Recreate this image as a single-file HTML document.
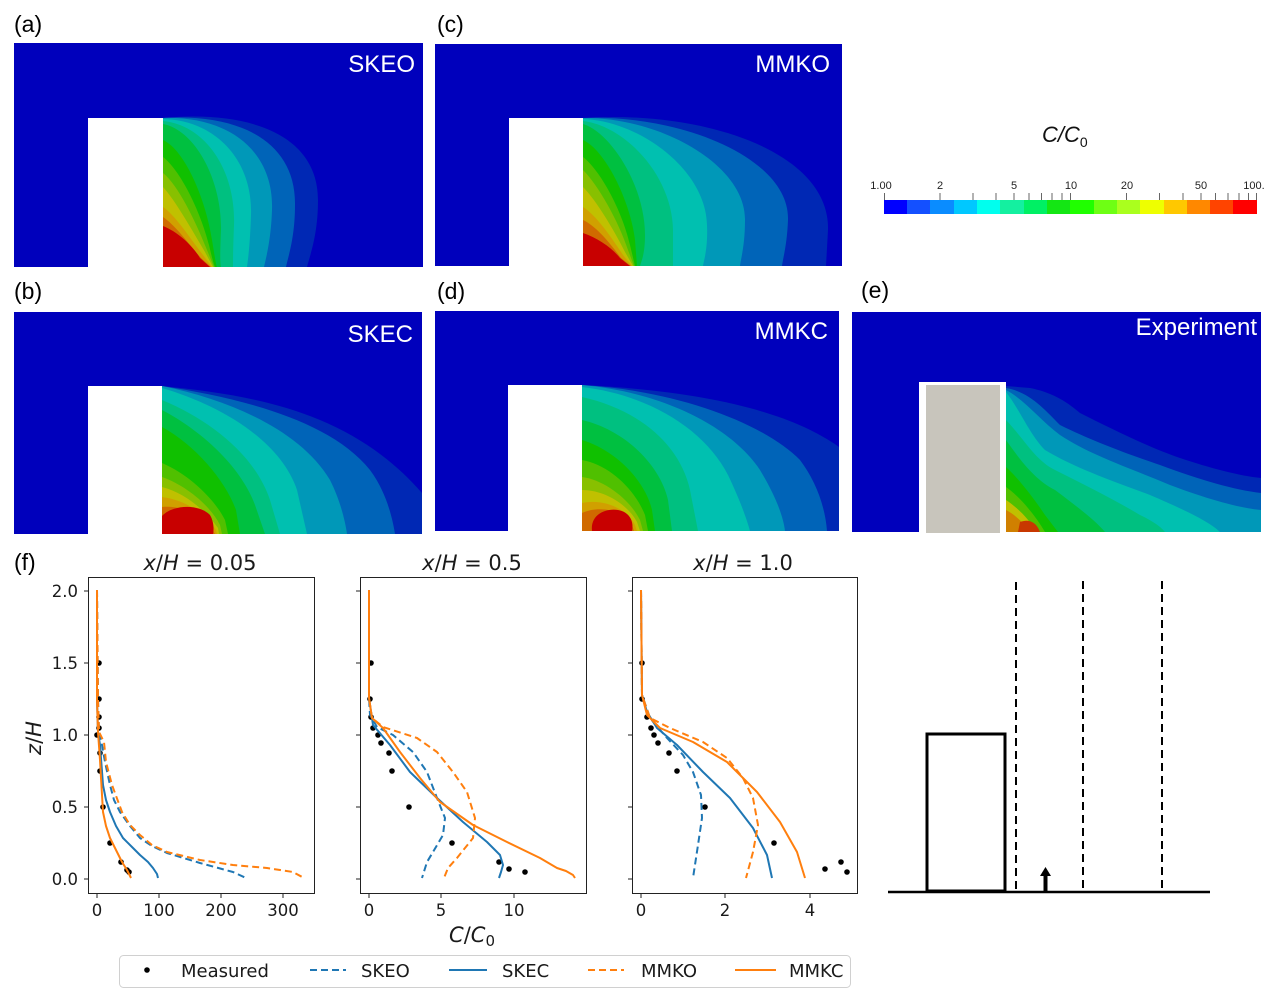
<!DOCTYPE html>
<html><head><meta charset="utf-8"><style>
html,body{margin:0;padding:0;background:#fff;}
svg{display:block;}
.lbl{font-family:"Liberation Sans",Arial,sans-serif;font-size:23px;fill:#000;}
.wt{font-family:"Liberation Sans",Arial,sans-serif;font-size:24px;fill:#fff;}
.tk{font-family:"DejaVu Sans","Liberation Sans",sans-serif;font-size:16.5px;fill:#1a1a1a;}
.tt{font-family:"DejaVu Sans","Liberation Sans",sans-serif;font-size:21px;fill:#1a1a1a;}
.lg{font-family:"DejaVu Sans","Liberation Sans",sans-serif;font-size:18px;fill:#1a1a1a;}
.cb{font-family:"Liberation Sans",Arial,sans-serif;font-size:11px;fill:#222;}
</style></head><body>
<svg width="1280" height="995" viewBox="0 0 1280 995" xmlns="http://www.w3.org/2000/svg">
<rect width="1280" height="995" fill="#fff"/>

<!-- Panel labels -->
<text class="lbl" x="14" y="32">(a)</text>
<text class="lbl" x="437" y="32">(c)</text>
<text class="lbl" x="14" y="299">(b)</text>
<text class="lbl" x="437" y="299">(d)</text>
<text class="lbl" x="861" y="298">(e)</text>
<text class="lbl" x="14" y="570">(f)</text>

<!-- Panel (a) SKEO -->
<rect x="14" y="43" width="409" height="224" fill="#0000bc"/>
<path fill="#0028b4" d="M163,118 C250,110 318,135 318,200 C318,235 310,255 307,267 L163,267Z"/>
<path fill="#0064b8" d="M163,118 C240,113 296,142 295,205 C295,238 288,257 286,267 L163,267Z"/>
<path fill="#0098b8" d="M163,118 C228,116 274,150 272,210 C271,240 266,258 264,267 L163,267Z"/>
<path fill="#00c0b0" d="M163,119 C215,120 253,160 251,215 C250,245 248,260 247,267 L163,267Z"/>
<path fill="#00c080" d="M163,121 C205,125 236,170 234,225 C233,250 233,262 233,267 L163,267Z"/>
<path fill="#00c040" d="M163,124 C195,130 222,180 221,230 C220,255 220,263 221,267 L163,267Z"/>
<path fill="#10c000" d="M163,140 C185,150 206,200 212,240 C215,258 216,265 217,267 L163,267Z"/>
<path fill="#50c000" d="M163,157 C180,170 200,210 209,245 C212,258 214,265 215,267 L163,267Z"/>
<path fill="#88c000" d="M163,173 C178,185 195,220 207,250 L214,267 L163,267Z"/>
<path fill="#c0c000" d="M163,187 C175,200 192,230 205,252 L213,267 L163,267Z"/>
<path fill="#d0a000" d="M163,207 C175,215 190,238 203,255 L212,267 L163,267Z"/>
<path fill="#d06a00" d="M163,217 C175,225 188,243 201,258 L211,267 L163,267Z"/>
<path fill="#c80000" d="M163,226 C178,232 192,245 200,258 L210,267 L163,267Z"/>
<rect x="88" y="118" width="75" height="150" fill="#fff"/>
<text class="wt" x="415" y="72" text-anchor="end">SKEO</text>

<!-- Panel (c) MMKO -->
<rect x="435" y="44" width="407" height="222" fill="#0000bc"/>
<path fill="#0028b4" d="M583,118 C700,110 830,150 828,230 L826,266 L583,266Z"/>
<path fill="#0064b8" d="M583,118 C680,114 790,158 788,220 C787,245 783,258 782,266 L583,266Z"/>
<path fill="#0098b8" d="M583,118 C660,117 746,165 745,220 C745,245 741,258 740,266 L583,266Z"/>
<path fill="#00c0b0" d="M583,119 C640,121 706,170 707,225 C708,248 704,260 703,266 L583,266Z"/>
<path fill="#00c080" d="M583,121 C625,126 672,175 673,230 L673,266 L583,266Z"/>
<path fill="#00c040" d="M583,124 C610,132 645,185 645,235 C645,255 641,262 640,266 L583,266Z"/>
<path fill="#10c000" d="M583,140 C605,150 630,200 635,240 L637,266 L583,266Z"/>
<path fill="#50c000" d="M583,157 C600,170 622,210 630,245 L635,266 L583,266Z"/>
<path fill="#88c000" d="M583,170 C598,185 618,220 628,250 L634,266 L583,266Z"/>
<path fill="#c0c000" d="M583,187 C596,200 614,230 625,252 L633,266 L583,266Z"/>
<path fill="#d0a000" d="M583,207 C596,215 612,238 623,255 L632,266 L583,266Z"/>
<path fill="#d06a00" d="M583,220 C596,226 610,243 621,258 L631,266 L583,266Z"/>
<path fill="#c80000" d="M583,233 C598,238 612,248 620,258 L630,266 L583,266Z"/>
<rect x="509" y="118" width="74" height="149" fill="#fff"/>
<text class="wt" x="830" y="72" text-anchor="end">MMKO</text>

<!-- Panel (b) SKEC -->
<rect x="14" y="312" width="408" height="222" fill="#0000bc"/>
<path fill="#0028b4" d="M162,386 C250,395 350,410 422,493 L422,534 L162,534Z"/>
<path fill="#0064b8" d="M162,386 C240,398 330,420 370,470 C385,490 392,515 395,534 L162,534Z"/>
<path fill="#0098b8" d="M162,386 C230,400 300,430 330,480 C340,500 345,520 347,534 L162,534Z"/>
<path fill="#00c0b0" d="M162,388 C220,405 280,440 297,490 L307,534 L162,534Z"/>
<path fill="#00c080" d="M162,400 C210,420 255,455 270,500 L280,534 L162,534Z"/>
<path fill="#00c040" d="M162,410 C200,430 240,465 255,505 L265,534 L162,534Z"/>
<path fill="#10c000" d="M162,427 C195,445 225,480 236,510 L240,534 L162,534Z"/>
<path fill="#50c000" d="M162,463 C190,475 215,500 225,520 L228,534 L162,534Z"/>
<path fill="#88c000" d="M162,477 C185,485 210,505 220,525 L222,534 L162,534Z"/>
<path fill="#c0c000" d="M162,487 C185,493 205,510 218,528 L219,534 L162,534Z"/>
<path fill="#d0a000" d="M162,497 C185,500 205,513 216,530 L217,534 L162,534Z"/>
<path fill="#d06a00" d="M162,507 C182,505 205,515 215,534 L162,534Z"/>
<path fill="#c80000" d="M162,516 C172,505 198,503 210,515 C214,522 214,530 213,534 L162,534Z"/>
<rect x="88" y="386" width="74" height="149" fill="#fff"/>
<text class="wt" x="413" y="342" text-anchor="end">SKEC</text>

<!-- Panel (d) MMKC -->
<rect x="435" y="311" width="404" height="220" fill="#0000bc"/>
<path fill="#0028b4" d="M582,385 C680,390 780,405 839,447 L839,531 L582,531Z"/>
<path fill="#0064b8" d="M582,385 C670,390 760,420 800,460 C815,480 825,505 827,531 L582,531Z"/>
<path fill="#0098b8" d="M582,385 C660,392 730,425 760,470 C775,495 783,515 785,531 L582,531Z"/>
<path fill="#00c0b0" d="M582,387 C650,395 705,430 728,475 C740,500 747,520 750,531 L582,531Z"/>
<path fill="#00c080" d="M582,397 C640,410 680,445 690,490 L698,531 L582,531Z"/>
<path fill="#00c040" d="M582,420 C625,430 660,465 668,500 L672,531 L582,531Z"/>
<path fill="#10c000" d="M582,440 C615,450 645,480 652,510 L655,531 L582,531Z"/>
<path fill="#50c000" d="M582,460 C610,465 635,490 645,515 L648,531 L582,531Z"/>
<path fill="#88c000" d="M582,477 C605,480 630,500 640,520 L643,531 L582,531Z"/>
<path fill="#c0c000" d="M582,490 C605,490 628,505 637,522 L640,531 L582,531Z"/>
<path fill="#d0a000" d="M582,503 C605,498 628,510 635,525 L637,531 L582,531Z"/>
<path fill="#d06a00" d="M582,513 C600,505 625,510 633,528 L634,531 L582,531Z"/>
<path fill="#c80000" d="M592,531 C590,515 605,508 618,510 C630,512 634,522 632,531Z"/>
<rect x="508" y="385" width="74" height="147" fill="#fff"/>
<text class="wt" x="828" y="339" text-anchor="end">MMKC</text>

<!-- Panel (e) Experiment -->
<rect x="852" y="312" width="409" height="220" fill="#0000bc"/>
<path fill="#0028b4" d="M1006,386 L1030,388 C1050,392 1065,400 1080,413 C1110,428 1150,448 1180,458 C1210,468 1240,476 1261,478 L1261,532 L1006,532Z"/>
<path fill="#0064b8" d="M1006,388 C1030,392 1045,410 1060,425 C1090,440 1130,455 1160,465 C1200,480 1235,490 1261,493 L1261,532 L1006,532Z"/>
<path fill="#0098b8" d="M1006,390 C1025,400 1040,420 1060,435 C1090,455 1130,468 1170,485 C1210,500 1240,508 1261,510 L1261,532 L1006,532Z"/>
<path fill="#00c0b0" d="M1006,392 C1020,410 1030,435 1045,450 C1075,468 1110,480 1150,495 C1185,510 1210,522 1220,532 L1006,532Z"/>
<path fill="#00c080" d="M1006,420 C1025,440 1035,460 1055,470 C1085,485 1115,500 1140,515 C1155,522 1162,528 1165,532 L1006,532Z"/>
<path fill="#00c040" d="M1006,440 C1020,460 1035,480 1055,490 C1075,505 1095,520 1105,532 L1006,532Z"/>
<path fill="#10c000" d="M1006,467 C1020,480 1035,500 1045,515 L1058,532 L1006,532Z"/>
<path fill="#50c000" d="M1006,487 C1020,497 1035,515 1045,532 L1006,532Z"/>
<path fill="#c0c000" d="M1006,500 C1018,508 1030,520 1036,532 L1006,532Z"/>
<path fill="#d08000" d="M1006,510 C1016,515 1025,525 1030,532 L1006,532Z"/>
<path fill="#c83800" d="M1018,532 L1020,522 C1028,519 1036,521 1040,532Z"/>
<rect x="919" y="382" width="87" height="151" fill="#fff"/>
<rect x="926" y="385" width="74" height="148" fill="#c8c5bc"/>
<text class="wt" x="1257" y="335" text-anchor="end">Experiment</text>

<!-- Colorbar -->
<text x="1042" y="142" font-family="Liberation Sans, Arial, sans-serif" font-size="22" font-style="italic" fill="#111">C/C<tspan font-size="14" font-style="normal" dy="5">0</tspan></text>
<g>
<rect x="884" y="200" width="24" height="14" fill="#0000ff"/>
<rect x="907" y="200" width="24" height="14" fill="#1450ff"/>
<rect x="930" y="200" width="24" height="14" fill="#0a8cff"/>
<rect x="954" y="200" width="24" height="14" fill="#00c8ff"/>
<rect x="977" y="200" width="24" height="14" fill="#00ffee"/>
<rect x="1000" y="200" width="24" height="14" fill="#14f0a0"/>
<rect x="1024" y="200" width="24" height="14" fill="#00f064"/>
<rect x="1047" y="200" width="24" height="14" fill="#14e614"/>
<rect x="1070" y="200" width="24" height="14" fill="#20ff00"/>
<rect x="1094" y="200" width="24" height="14" fill="#6eff14"/>
<rect x="1117" y="200" width="24" height="14" fill="#aaff1e"/>
<rect x="1140" y="200" width="24" height="14" fill="#eeff00"/>
<rect x="1164" y="200" width="24" height="14" fill="#ffc800"/>
<rect x="1187" y="200" width="24" height="14" fill="#ff8800"/>
<rect x="1210" y="200" width="24" height="14" fill="#ff4400"/>
<rect x="1233" y="200" width="24" height="14" fill="#ff0000"/>
</g>
<g stroke="#666" stroke-width="1">
<line x1="884.5" y1="193" x2="884.5" y2="200"/><line x1="940" y1="193" x2="940" y2="200"/><line x1="973" y1="193" x2="973" y2="200"/><line x1="996" y1="193" x2="996" y2="200"/><line x1="1014" y1="193" x2="1014" y2="200"/><line x1="1029" y1="193" x2="1029" y2="200"/><line x1="1041.5" y1="193" x2="1041.5" y2="200"/><line x1="1052" y1="193" x2="1052" y2="200"/><line x1="1062" y1="193" x2="1062" y2="200"/><line x1="1070.5" y1="193" x2="1070.5" y2="200"/><line x1="1126.5" y1="193" x2="1126.5" y2="200"/><line x1="1159.5" y1="193" x2="1159.5" y2="200"/><line x1="1183" y1="193" x2="1183" y2="200"/><line x1="1201" y1="193" x2="1201" y2="200"/><line x1="1215.5" y1="193" x2="1215.5" y2="200"/><line x1="1228" y1="193" x2="1228" y2="200"/><line x1="1239" y1="193" x2="1239" y2="200"/><line x1="1248.5" y1="193" x2="1248.5" y2="200"/><line x1="1256.5" y1="193" x2="1256.5" y2="200"/>
</g>
<text class="cb" x="881" y="189" text-anchor="middle">1.00</text>
<text class="cb" x="940" y="189" text-anchor="middle">2</text>
<text class="cb" x="1014" y="189" text-anchor="middle">5</text>
<text class="cb" x="1071" y="189" text-anchor="middle">10</text>
<text class="cb" x="1127" y="189" text-anchor="middle">20</text>
<text class="cb" x="1201" y="189" text-anchor="middle">50</text>
<text class="cb" x="1254" y="189" text-anchor="middle">100.</text>

<!-- Plot titles -->
<text class="tt" x="200" y="570" text-anchor="middle"><tspan font-style="italic">x</tspan>/<tspan font-style="italic">H</tspan> = 0.05</text>
<text class="tt" x="472" y="570" text-anchor="middle"><tspan font-style="italic">x</tspan>/<tspan font-style="italic">H</tspan> = 0.5</text>
<text class="tt" x="743" y="570" text-anchor="middle"><tspan font-style="italic">x</tspan>/<tspan font-style="italic">H</tspan> = 1.0</text>

<!-- y label -->
<text class="tt" transform="translate(41,738) rotate(-90)" text-anchor="middle"><tspan font-style="italic">z</tspan>/<tspan font-style="italic">H</tspan></text>
<!-- x label -->
<text class="tt" x="472" y="942" text-anchor="middle" font-size="22"><tspan font-style="italic">C</tspan>/<tspan font-style="italic">C</tspan><tspan font-size="15" dy="4">0</tspan></text>

<!-- Axes boxes -->
<g fill="none" stroke="#222" stroke-width="1">
<rect x="88.5" y="577.5" width="226" height="316"/>
<rect x="360.5" y="577.5" width="226" height="316"/>
<rect x="632.5" y="577.5" width="225" height="316"/>
</g>
<!-- Y ticks -->
<g stroke="#222" stroke-width="1">
<line x1="84" y1="591" x2="88" y2="591"/><line x1="84" y1="663" x2="88" y2="663"/><line x1="84" y1="735" x2="88" y2="735"/><line x1="84" y1="807" x2="88" y2="807"/><line x1="84" y1="879" x2="88" y2="879"/>
<line x1="356" y1="591" x2="360" y2="591"/><line x1="356" y1="663" x2="360" y2="663"/><line x1="356" y1="735" x2="360" y2="735"/><line x1="356" y1="807" x2="360" y2="807"/><line x1="356" y1="879" x2="360" y2="879"/>
<line x1="628" y1="591" x2="632" y2="591"/><line x1="628" y1="663" x2="632" y2="663"/><line x1="628" y1="735" x2="632" y2="735"/><line x1="628" y1="807" x2="632" y2="807"/><line x1="628" y1="879" x2="632" y2="879"/>
<line x1="97" y1="894" x2="97" y2="898"/><line x1="159" y1="894" x2="159" y2="898"/><line x1="221" y1="894" x2="221" y2="898"/><line x1="283" y1="894" x2="283" y2="898"/>
<line x1="369" y1="894" x2="369" y2="898"/><line x1="441" y1="894" x2="441" y2="898"/><line x1="514" y1="894" x2="514" y2="898"/>
<line x1="641" y1="894" x2="641" y2="898"/><line x1="725" y1="894" x2="725" y2="898"/><line x1="810" y1="894" x2="810" y2="898"/>
</g>
<text class="tk" x="78" y="597" text-anchor="end">2.0</text>
<text class="tk" x="78" y="669" text-anchor="end">1.5</text>
<text class="tk" x="78" y="741" text-anchor="end">1.0</text>
<text class="tk" x="78" y="813" text-anchor="end">0.5</text>
<text class="tk" x="78" y="885" text-anchor="end">0.0</text>
<text class="tk" x="97" y="916" text-anchor="middle">0</text>
<text class="tk" x="159" y="916" text-anchor="middle">100</text>
<text class="tk" x="221" y="916" text-anchor="middle">200</text>
<text class="tk" x="283" y="916" text-anchor="middle">300</text>
<text class="tk" x="369" y="916" text-anchor="middle">0</text>
<text class="tk" x="441" y="916" text-anchor="middle">5</text>
<text class="tk" x="514" y="916" text-anchor="middle">10</text>
<text class="tk" x="641" y="916" text-anchor="middle">0</text>
<text class="tk" x="725" y="916" text-anchor="middle">2</text>
<text class="tk" x="810" y="916" text-anchor="middle">4</text>

<!-- Measured dots -->
<g fill="#000">
<circle cx="99" cy="663" r="2.8"/><circle cx="99" cy="699" r="2.8"/><circle cx="99" cy="717" r="2.8"/><circle cx="99" cy="728" r="2.8"/><circle cx="97" cy="735" r="2.8"/><circle cx="100" cy="753" r="2.8"/><circle cx="100" cy="771" r="2.8"/><circle cx="103" cy="807" r="2.8"/><circle cx="110" cy="843" r="2.8"/><circle cx="121" cy="862" r="2.8"/><circle cx="127" cy="870" r="2.8"/><circle cx="129" cy="872" r="2.8"/>
<circle cx="371" cy="663" r="2.8"/><circle cx="370" cy="699" r="2.8"/><circle cx="371" cy="717" r="2.8"/><circle cx="373" cy="728" r="2.8"/><circle cx="378" cy="735" r="2.8"/><circle cx="381" cy="743" r="2.8"/><circle cx="389" cy="753" r="2.8"/><circle cx="392" cy="771" r="2.8"/><circle cx="409" cy="807" r="2.8"/><circle cx="452" cy="843" r="2.8"/><circle cx="499" cy="862" r="2.8"/><circle cx="509" cy="869" r="2.8"/><circle cx="525" cy="872" r="2.8"/>
<circle cx="642" cy="663" r="2.8"/><circle cx="642" cy="699" r="2.8"/><circle cx="647" cy="717" r="2.8"/><circle cx="651" cy="728" r="2.8"/><circle cx="654" cy="735" r="2.8"/><circle cx="658" cy="743" r="2.8"/><circle cx="669" cy="753" r="2.8"/><circle cx="677" cy="771" r="2.8"/><circle cx="705" cy="807" r="2.8"/><circle cx="774" cy="843" r="2.8"/><circle cx="825" cy="869" r="2.8"/><circle cx="841" cy="862" r="2.8"/><circle cx="847" cy="872" r="2.8"/>
</g>

<!-- Curves -->
<g fill="none" stroke-width="2" stroke-linejoin="round" stroke-linecap="butt">
<!-- plot 1 -->
<polyline stroke="#1f77b4" stroke-dasharray="7,4" points="97,590 98,700 99,732 102,745 105,762 110,785 114,800 120,812 130,826 140,838 152,846 167,853 200,863 233,872 246,878"/>
<polyline stroke="#1f77b4" points="97,590 97,700 98,732 100,745 103,785 106,800 110,812 116,826 123,838 132,847 140,855 148,862 153,868 157,874 158,878"/>
<polyline stroke="#ff7f0e" stroke-dasharray="7,4" points="97,590 98,700 99,732 104,742 106,762 112,785 122,812 130,825 140,835 152,845 167,852 200,860 233,865 267,868 293,872 304,878"/>
<polyline stroke="#ff7f0e" points="97,590 97,700 98,732 100,760 101,778 103,812 106,826 110,838 116,850 122,862 127,870 131,878"/>
<!-- plot 2 -->
<polyline stroke="#1f77b4" stroke-dasharray="7,4" points="369,590 369,698 370,715 377,727 393,735 413,752 427,772 437,798 445,818 443,835 433,852 427,862 422,878"/>
<polyline stroke="#1f77b4" points="369,590 369,698 373,725 390,745 410,772 437,798 463,822 487,842 500,855 503,865 501,872 499,878"/>
<polyline stroke="#ff7f0e" stroke-dasharray="7,4" points="369,590 369,698 372,718 383,727 417,738 437,752 453,772 467,792 475,818 473,838 457,858 448,868 444,878"/>
<polyline stroke="#ff7f0e" points="369,590 369,698 372,718 383,728 400,752 420,778 440,802 473,825 507,842 540,858 557,868 566,871 573,875 575,878"/>
<!-- plot 3 -->
<polyline stroke="#1f77b4" stroke-dasharray="7,4" points="641,590 642,695 650,718 667,738 683,755 693,772 701,795 702,818 698,845 693,878"/>
<polyline stroke="#1f77b4" points="641,590 642,695 647,712 657,728 677,745 703,772 730,798 753,828 767,855 772,878"/>
<polyline stroke="#ff7f0e" stroke-dasharray="7,4" points="641,590 642,695 650,718 670,728 703,742 727,758 743,778 753,798 758,825 753,852 746,878"/>
<polyline stroke="#ff7f0e" points="641,590 642,695 647,715 660,728 693,742 727,762 757,792 780,822 797,852 805,878"/>
</g>

<!-- Legend -->
<rect x="119.5" y="955.5" width="731" height="32" rx="4" fill="#fff" stroke="#d0d0d0" stroke-width="1"/>
<circle cx="147" cy="970" r="2.8" fill="#000"/>
<text class="lg" x="181" y="977">Measured</text>
<line x1="310" y1="970" x2="346" y2="970" stroke="#1f77b4" stroke-width="2" stroke-dasharray="7,4"/>
<text class="lg" x="361" y="977">SKEO</text>
<line x1="449" y1="970" x2="487" y2="970" stroke="#1f77b4" stroke-width="2"/>
<text class="lg" x="502" y="977">SKEC</text>
<line x1="588" y1="970" x2="624" y2="970" stroke="#ff7f0e" stroke-width="2" stroke-dasharray="7,4"/>
<text class="lg" x="641" y="977">MMKO</text>
<line x1="735" y1="970" x2="776" y2="970" stroke="#ff7f0e" stroke-width="2"/>
<text class="lg" x="789" y="977">MMKC</text>

<!-- Schematic -->
<line x1="888" y1="892" x2="1210" y2="892" stroke="#000" stroke-width="2.5"/>
<rect x="927" y="734" width="78" height="157" fill="none" stroke="#000" stroke-width="3"/>
<g stroke="#000" stroke-width="2" stroke-dasharray="8,5">
<line x1="1016" y1="582" x2="1016" y2="892"/>
<line x1="1083" y1="581" x2="1083" y2="892"/>
<line x1="1162" y1="581" x2="1162" y2="892"/>
</g>
<line x1="1045.5" y1="892" x2="1045.5" y2="874" stroke="#000" stroke-width="4"/>
<polygon points="1040,876 1051,876 1045.5,867" fill="#000"/>
</svg>
</body></html>
